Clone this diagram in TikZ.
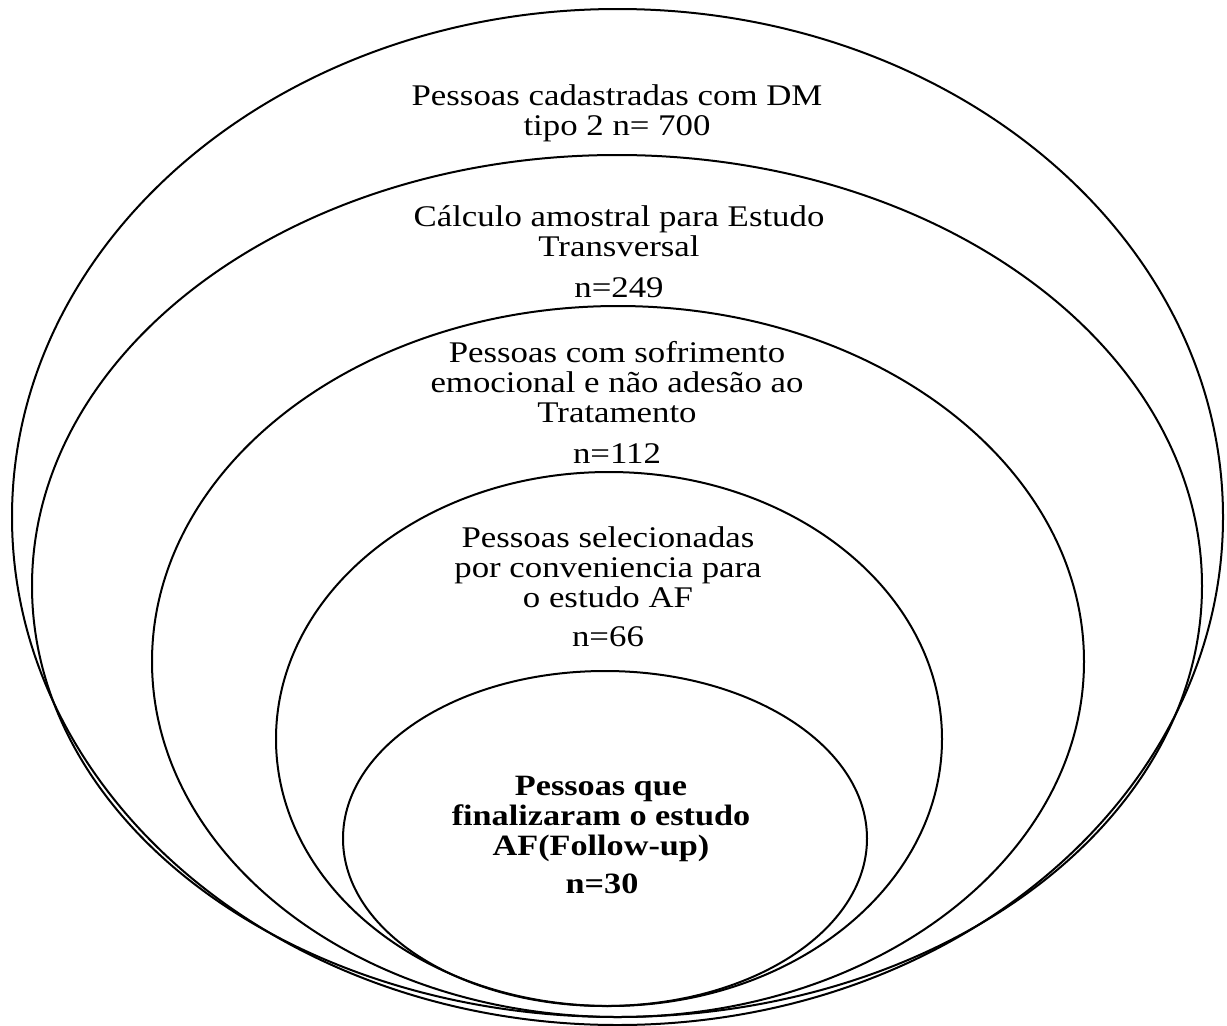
\documentclass[tikz,border=0pt]{standalone}
\usepackage{fontspec}
\usepackage{graphicx}
\setmainfont{Liberation Serif}
\usetikzlibrary{shapes.geometric}
\newcommand{\wtxt}[1]{\scalebox{1.16}[1]{\begin{tabular}{@{}c@{}}#1\end{tabular}}}
\tikzset{
  ring/.style={draw=black, line width=2pt, ellipse, inner sep=0pt, fill=none},
  lbl/.style={inner sep=0pt, font=\fontsize{30}{30}\selectfont},
  blbl/.style={inner sep=0pt, font=\fontsize{29.5}{30}\selectfont\bfseries}
}
\begin{document}
\begin{tikzpicture}[x=1pt,y=-1pt]
\useasboundingbox (0,0) rectangle (1227,1026);
\node[ring, minimum width=1211pt, minimum height=1016pt] (e1) at (617.5,517) {};
\node[ring, minimum width=1170pt, minimum height=862pt] (e2) at (617,586) {};
\node[ring, minimum width=932pt, minimum height=711pt] (e3) at (618,661.5) {};
\node[ring, minimum width=666pt, minimum height=534pt] (e4) at (609,739) {};
\node[ring, minimum width=524pt, minimum height=335pt] (e5) at (605,838.5) {};

\node[lbl] (t1) at (617,114) {\wtxt{Pessoas cadastradas com DM\\tipo 2 n= 700}};
\node[lbl] (t2) at (619,235) {\wtxt{Cálculo amostral para Estudo\\Transversal}};
\node[lbl] (n2) at (619,291) {\wtxt{n=249}};
\node[lbl] (t3) at (617,386) {\wtxt{Pessoas com sofrimento\\emocional e não adesão ao\\Tratamento}};
\node[lbl] (n3) at (617,457) {\wtxt{n=112}};
\node[lbl] (t4) at (608,571) {\wtxt{Pessoas selecionadas\\por conveniencia para\\o estudo AF}};
\node[lbl] (n4) at (608,640) {\wtxt{n=66}};
\node[blbl] (t5) at (601,819) {\wtxt{Pessoas que\\finalizaram o estudo\\AF(Follow-up)}};
\node[blbl] (n5) at (602,887) {\wtxt{n=30}};
\end{tikzpicture}
\end{document}
